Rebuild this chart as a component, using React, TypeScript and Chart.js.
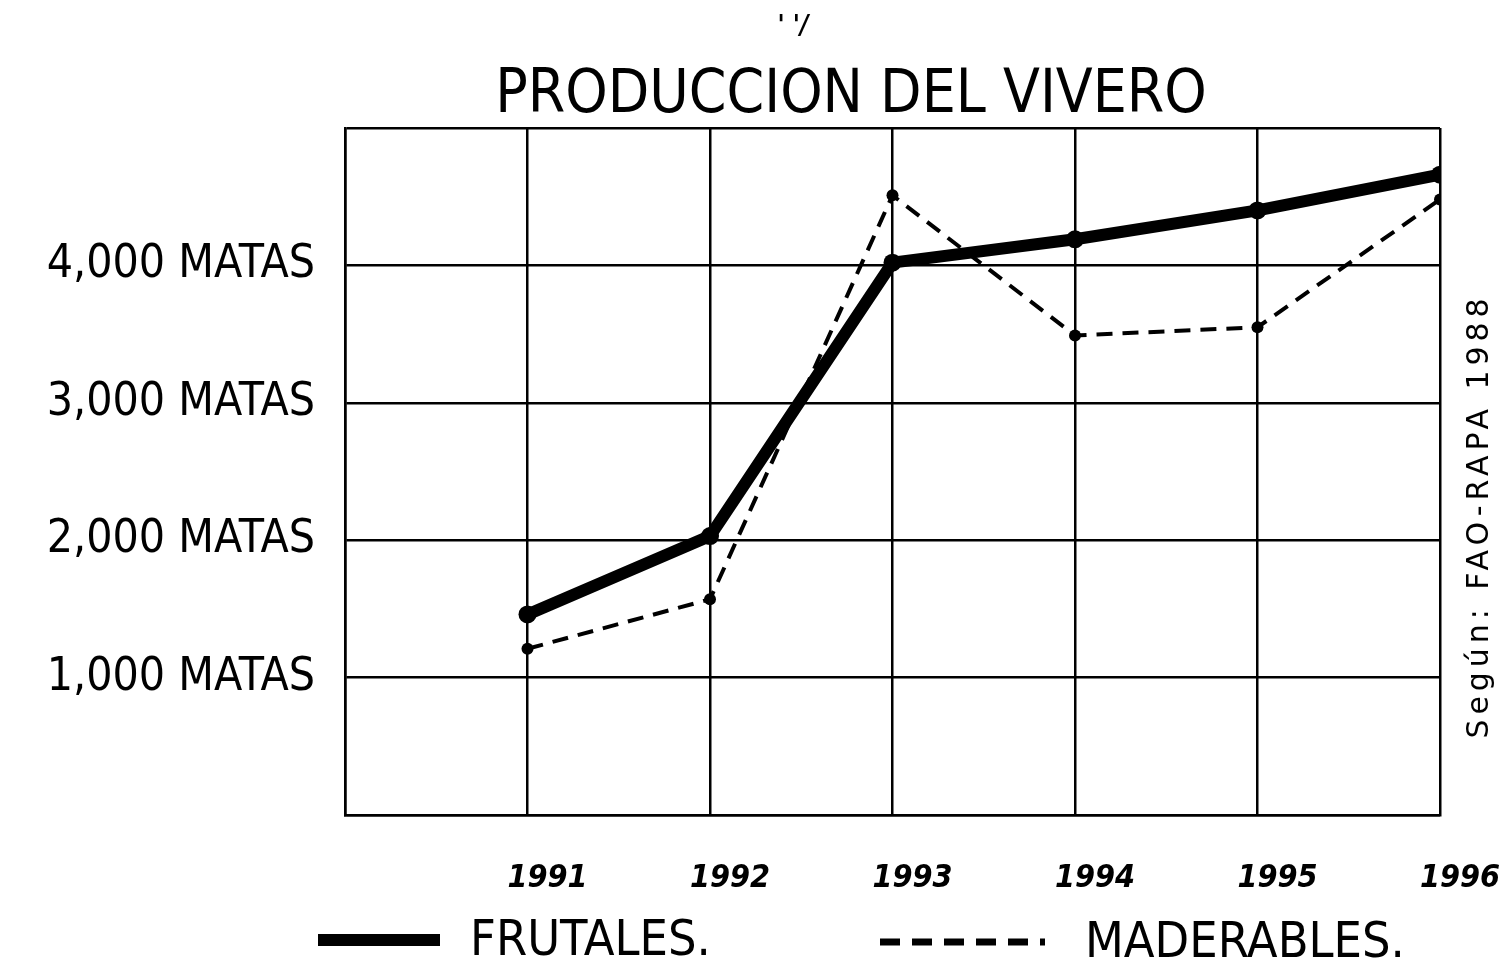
import { useEffect, useRef } from "react";
import { Chart, registerables } from "chart.js";

Chart.register(...registerables);

const years = [1991, 1992, 1993, 1994, 1995, 1996];
const frutales = [1460, 2030, 4020, 4190, 4400, 4660];
const maderables = [1210, 1570, 4510, 3490, 3550, 4480];
const yTickValues = [1000, 2000, 3000, 4000];
const yTickLabels = ["1,000 MATAS", "2,000 MATAS", "3,000 MATAS", "4,000 MATAS"];
const seriesLabels = ["FRUTALES.", "MADERABLES."];
const titleText = "PRODUCCION DEL VIVERO";
const sourceText = "Según: FAO-RAPA 1988";
const topMark = "' '/";

const FONT = "'DejaVu Sans Condensed', 'Liberation Sans Narrow', 'DejaVu Sans', sans-serif";

const decorPlugin = {
  id: "decor",
  afterDraw(chart: any) {
    const ctx = chart.ctx as CanvasRenderingContext2D;
    const area = chart.chartArea;
    ctx.save();
    ctx.fillStyle = "#000";
    // title
    ctx.font = `60px ${FONT}`;
    ctx.textAlign = "center";
    ctx.textBaseline = "alphabetic";
    ctx.fillText(titleText, 843, 104);
    // stray top mark
    ctx.font = `italic bold 26px ${FONT}`;
    ctx.fillText(topMark, 785, 26);
    // source text (rotated)
    ctx.save();
    ctx.translate(area.right + 40, 508);
    ctx.rotate(-Math.PI / 2);
    ctx.font = `30px 'DejaVu Sans', sans-serif`;
    const w = ctx.measureText(sourceText).width;
    const target = 440;
    (ctx as any).letterSpacing = `${Math.max(0, (target - w) / (sourceText.length - 1))}px`;
    ctx.textAlign = "center";
    ctx.textBaseline = "middle";
    ctx.fillText(sourceText, 0, 0);
    ctx.restore();
    // legend
    const ds = chart.data.datasets;
    const items = [
      { x0: 310, x1: 432, tx: 462, y: 932 },
      { x0: 872, x1: 1037, tx: 1077, y: 934 },
    ];
    items.forEach((it, i) => {
      const d = ds[i];
      ctx.save();
      ctx.strokeStyle = d.borderColor;
      ctx.lineWidth = i === 0 ? d.borderWidth : 7;
      ctx.setLineDash(i === 0 ? [] : [20, 12]);
      ctx.beginPath();
      ctx.moveTo(it.x0, it.y);
      ctx.lineTo(it.x1, it.y);
      ctx.stroke();
      ctx.restore();
      ctx.font = `50px ${FONT}`;
      ctx.textAlign = "left";
      ctx.textBaseline = "middle";
      ctx.fillText(d.label, it.tx, it.y + 2);
    });
    ctx.restore();
  },
};

export default function App() {
  const ref = useRef<HTMLCanvasElement | null>(null);
  useEffect(() => {
    if (!ref.current) return;
    const gridColor = "#000";
    const chart = new Chart(ref.current, {
      type: "line",
      data: {
        datasets: [
          {
            label: seriesLabels[0],
            data: years.map((x, i) => ({ x, y: frutales[i] })),
            borderColor: "#000",
            backgroundColor: "#000",
            borderWidth: 12,
            pointRadius: 9,
            pointBackgroundColor: "#000",
            pointBorderWidth: 0,
            borderJoinStyle: "round",
            borderCapStyle: "round",
            tension: 0,
          },
          {
            label: seriesLabels[1],
            data: years.map((x, i) => ({ x, y: maderables[i] })),
            borderColor: "#000",
            backgroundColor: "#000",
            borderWidth: 4,
            borderDash: [16, 10],
            pointRadius: 6,
            pointBackgroundColor: "#000",
            pointBorderWidth: 0,
            tension: 0,
          },
        ],
      },
      options: {
        animation: false,
        responsive: true,
        maintainAspectRatio: false,
        layout: { padding: { top: 120, right: 59, bottom: 0, left: 0 } },
        plugins: {
          legend: { display: false },
          title: { display: false },
          tooltip: { enabled: false },
        },
        scales: {
          x: {
            type: "linear",
            min: 1990,
            max: 1996,
            grid: { color: gridColor, lineWidth: 2.5, drawTicks: false },
            border: { color: gridColor, width: 2.5 },
            ticks: {
              stepSize: 1,
              padding: 44,
              labelOffset: 20,
              autoSkip: false,
              maxRotation: 0,
              color: "#000",
              font: { family: FONT, size: 32, style: "italic", weight: "bold" },
              callback: (v: any) => (years.includes(Number(v)) ? String(v) : ""),
            },
            afterFit: (s: any) => {
              s.height = 150;
              s.paddingRight = 0;
              s.paddingLeft = 0;
            },
          },
          y: {
            min: 0,
            max: 5000,
            grid: { color: gridColor, lineWidth: 2.5, drawTicks: false },
            border: { color: gridColor, width: 2.5 },
            ticks: {
              stepSize: 1000,
              padding: 30,
              color: "#000",
              font: { family: FONT, size: 46 },
              callback: (v: any) => {
                const i = yTickValues.indexOf(Number(v));
                return i >= 0 ? yTickLabels[i] : "";
              },
            },
            afterFit: (s: any) => {
              s.width = 337;
              s.paddingTop = 0;
              s.paddingBottom = 0;
            },
          },
        },
      },
      plugins: [decorPlugin],
    } as any);
    return () => chart.destroy();
  }, []);
  return (
    <div style={{ width: 1491, height: 957, position: "relative" }}>
      <canvas ref={ref} />
    </div>
  );
}
